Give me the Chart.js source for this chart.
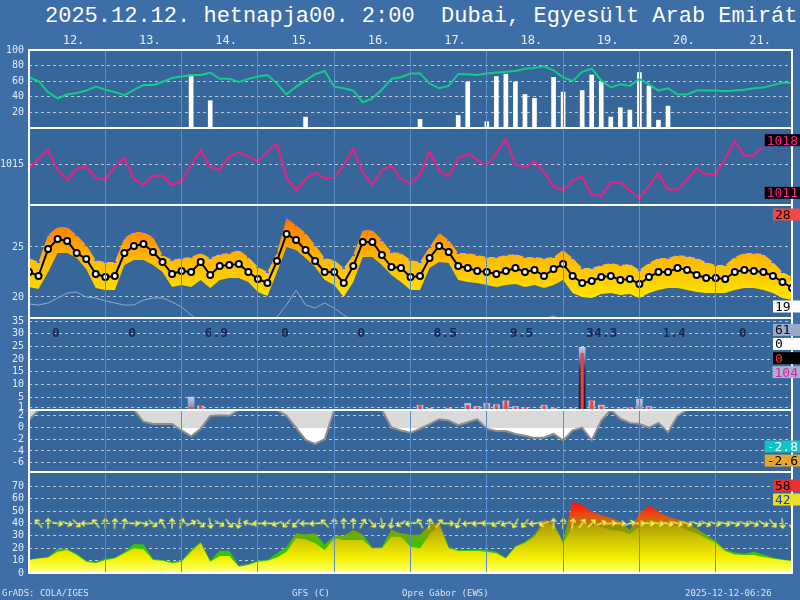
<!DOCTYPE html>
<html>
<head>
<meta charset="utf-8">
<script src="https://cdn.jsdelivr.net/npm/chart.js@4.4.1/dist/chart.umd.min.js"></script>
<style>
  html, body { margin: 0; padding: 0; }
  body { width: 800px; height: 600px; overflow: hidden; background: #3e6ea8; position: relative; }
  canvas { position: absolute; left: 0; }
  #title { position: absolute; left: 45px; top: 6px; font: 22px 'Liberation Mono', monospace; line-height: 22px; color: #fff; white-space: pre; }
  .foot { position: absolute; top: 589px; font: 9px 'DejaVu Sans Mono', monospace; line-height: 9px; color: #dde4ef; white-space: pre; }
</style>
</head>
<body>
<div id="title">2025.12.12. hetnapja00. 2:00  Dubai, Egyesült Arab Emirát</div>
<canvas id="c-hum"></canvas>
<canvas id="c-pres"></canvas>
<canvas id="c-temp"></canvas>
<canvas id="c-prec"></canvas>
<canvas id="c-snow"></canvas>
<canvas id="c-wind"></canvas>
<div class="foot" style="left:2px">GrADS: COLA/IGES</div>
<div class="foot" style="left:292px">GFS (C)</div>
<div class="foot" style="left:402px">Opre Gábor (EWS)</div>
<div class="foot" style="left:685px">2025-12-12-06:26</div>
<script>
const _ = null;

// 3-hourly steps, hours from start
const hours = Array.from({length: 81}, (_, i) => i * 3);
const dayLabels = ['12.', '13.', '14.', '15.', '16.', '17.', '18.', '19.', '20.', '21.'];
const dayPrecip = [0, 0, 6.9, 0, 0, 8.5, 9.5, 34.3, 1.4, 0];

// tick labels per panel
const humTicks  = [20, 40, 60, 80, 100];
const presTicks = [1015];
const tempTicks = [20, 25];
const precTicks = [1, 5, 10, 15, 20, 25, 30, 35];
const snowTicks = [-6, -4, -2, 0, 2];
const windTicks = [0, 10, 20, 30, 40, 50, 60, 70];

const humidity = [65,60,46,38,43,45,48,53,49,46, 42,49,55,55,59,64,66,68,68,71,
  63,63,59,63,66,68,57,43,53,61, 69,73,53,51,48,33,38,49,63,65,
  70,70,57,51,54,69,69,68,70,71, 72,73,76,77,79,74,65,60,72,76,
  61,52,56,54,63,56,48,51,43,43, 48,48,48,47,48,49,51,52,55,58,58];

const rainChance = [_,_,_,_,_,_,_,_,_,_, _,_,_,_,_,_,_,66,_,35,
  _,_,_,_,_,_,_,_,_,14, _,_,_,_,_,_,_,_,_,_,
  _,11,_,_,_,16,59,_,8,66, 69,59,43,38,_,65,46,_,48,68,
  60,14,26,23,71,54,10,28,_,_, _,_,_,_,_,_,_,_,_,_,_];

const pressure = [1014.5,1015.7,1016.8,1014.3,1013.1,1014.5,1014.7,1013.4,1013.1,1014.8,
  1015.8,1013.2,1012.5,1013.6,1013.6,1012.5,1012.9,1015.0,1016.8,1014.7,
  1014.3,1016.0,1016.5,1016.0,1015.4,1016.6,1017.5,1013.4,1011.8,1013.2,
  1014.0,1013.3,1013.4,1014.9,1017.0,1014.0,1012.5,1014.3,1014.8,1013.2,
  1012.6,1013.8,1016.6,1014.2,1013.5,1015.8,1016.3,1015.6,1014.9,1016.4,
  1018.1,1015.0,1014.6,1015.4,1014.1,1012.3,1011.8,1013.0,1013.5,1011.3,
  1011.1,1012.8,1012.8,1011.8,1010.8,1012.4,1013.9,1011.9,1011.9,1013.2,
  1014.5,1013.8,1013.8,1015.7,1017.9,1016.1,1016.1,1017.3,_,_,_];

const temp = [22.5,22.1,24.8,25.8,25.6,24.4,23.8,22.3,22.0,22.1,
  24.4,25.1,25.3,24.5,23.5,22.3,22.6,22.5,23.5,22.2,
  23.1,23.2,23.3,22.5,21.8,21.4,23.6,26.3,25.7,24.7,
  23.6,22.5,22.5,21.4,23.1,25.5,25.5,24.2,23.0,22.9,
  22.0,22.1,23.9,25.1,24.5,23.1,22.9,22.6,22.5,22.3,
  22.6,22.9,22.5,22.7,22.1,22.8,23.3,22.1,21.4,21.6,
  22.0,22.1,21.7,21.8,21.3,22.0,22.5,22.5,22.9,22.7,
  22.2,21.9,21.9,21.8,22.5,22.7,22.6,22.5,22.1,21.5,20.9];

const tempHi = [23.9,23.5,26.2,27.0,27.0,26.2,25.2,23.7,23.5,23.5,
  25.9,26.5,26.5,26.0,24.2,23.7,23.9,24.0,24.4,23.9,
  24.3,24.4,24.7,24.0,23.0,22.5,24.4,27.9,27.2,26.4,
  25.2,23.9,23.7,22.9,24.2,26.7,26.7,25.7,24.5,24.4,
  23.7,23.5,25.0,26.4,25.7,24.4,24.4,24.2,24.0,24.0,
  24.2,24.3,24.0,24.0,23.9,24.0,24.7,23.9,22.9,22.9,
  23.2,23.4,23.2,23.3,22.7,23.4,23.9,23.9,24.2,24.1,
  23.9,23.5,23.2,23.2,24.0,24.4,24.4,24.3,23.5,22.5,22.0];

const tempLo = [21.0,20.8,22.5,24.4,24.4,23.9,22.8,20.9,20.7,20.7,
  23.2,23.7,23.7,23.2,22.5,21.0,21.2,21.0,21.7,20.9,
  21.7,21.9,21.9,21.5,20.5,20.1,22.5,25.0,24.7,23.9,
  23.0,21.7,21.2,20.0,21.5,24.0,24.0,23.2,22.2,21.5,
  20.7,20.7,22.9,23.5,23.4,21.7,21.5,21.4,21.2,21.0,
  21.2,21.3,21.0,21.2,20.9,21.2,21.7,20.4,20.0,19.9,
  20.3,20.4,20.2,20.3,19.9,20.4,20.7,20.9,20.9,20.7,
  20.5,20.4,20.4,20.4,20.7,20.9,20.9,20.7,20.4,19.9,19.7];

const dewPoint = [19.3,19.2,19.4,19.9,20.4,20.5,20.0,19.9,19.6,19.4,
  19.2,19.2,19.7,19.9,19.9,19.5,19.0,18.2,17.5,17.2,
  17.4,18.0,17.5,17.2,17.0,17.3,18.0,19.2,20.7,19.2,
  18.9,19.4,18.9,18.2,17.6,17.3,17.2,17.0,17.2,17.3,
  17.1,17.0,17.2,17.3,17.4,17.2,17.1,17.0,17.0,17.2,
  17.4,17.5,17.6,17.7,17.8,18.1,17.6,17.3,17.0,17.0,
  17.1,17.2,17.0,17.0,16.9,17.0,17.2,17.3,17.3,17.2,
  17.0,17.0,16.9,16.9,17.0,17.1,17.1,17.0,16.9,16.8,16.7];

const precipTotal = [_,_,_,_,_,_,_,_,_,_, _,_,_,_,_,_,_,5.2,1.7,_,
  _,_,_,_,_,_,_,_,_,_, _,_,_,_,_,_,_,_,_,_,
  _,2.0,0.7,_,0.7,_,2.7,1.5,2.7,2.2, 3.7,1.5,0.9,_,2.0,0.7,_,0.6,24.8,3.7,
  2.0,_,0.6,1.0,4.4,1.5,_,_,_,_, _,_,_,_,_,_,_,_,_,_,_];

const precipConv = [_,_,_,_,_,_,_,_,_,_, _,_,_,_,_,_,_,1.1,1.7,_,
  _,_,_,_,_,_,_,_,_,_, _,_,_,_,_,_,_,_,_,_,
  _,2.0,0.5,_,0.6,_,2.0,1.1,2.4,2.0, 3.7,1.1,0.8,_,1.8,0.5,_,0.5,22.4,3.7,
  1.5,_,0.5,1.0,0.3,1.1,_,_,_,_, _,_,_,_,_,_,_,_,_,_,_];

const snowLevel = [1.3,3,3,3,3,3,3,3,3,3,
  3,3,1.0,0.6,0.6,0.6,-0.5,-1.5,-0.2,2.0,
  2.1,2.0,3,3,3,3,3,2.0,0,-2.1,
  -2.8,-2.0,3,3,3,3,3,3,0,-0.5,
  -0.9,-0.2,0.6,1.4,1.2,0.4,0.9,1.4,-0.2,-0.6,
  -0.6,-1.1,-1.4,-1.8,-1.7,-1.1,-2.2,-0.5,0,-2.2,
  1.2,3,1.5,0.8,0.6,0,0.8,-0.8,2.0,3,
  3,3,3,3,3,3,3,3,3,3,3];

const windSpeed = [10.5,11.8,12.6,17.2,18.5,14.5,9.1,7.8,10.5,11.8,
  15.9,19.9,19.1,10.5,9.9,7.8,9.1,17.2,24.5,9.1,
  13.7,13.7,5.1,6.4,9.1,9.9,12.6,17.2,28,27,
  24,18.5,28,26.6,26.6,26.6,19.9,19.9,29.3,29.3,
  21.2,19.9,31.2,38.7,19.9,17.7,17.7,17.7,17.2,15.9,
  11.8,21.2,24.2,29.3,40,38.7,24,38,40,38.7,
  37.4,34.7,34,31.2,38,42.7,41.4,40,38,34.7,
  32,28,24.5,17.7,15,14.5,14.5,13,11.8,10.5,9.6];

const windGust = [11,12,13,19.3,19.5,15.5,10,9,11.5,12.6,
  17,23.4,23,11.5,10.5,9,10,19,25,10,
  18,18,6,7.5,10,10.5,16,21,32,31,
  32,23,30,30,34.7,31,20.5,21,35,32,
  30.8,30.8,38.7,41,21.2,18.5,18.5,19,18.5,17.2,
  12.6,21.8,25.3,30.8,43.3,40,25.8,57.5,54.8,49.5,
  46.8,44.6,41.4,34.7,48,54.8,49.5,45.4,43.3,40.6,
  36,30.8,25.8,19,16.5,15.6,17.2,15,12.6,11,9.9];

// direction the wind comes from, degrees
const windDir = [_,140,180,280,290,315,90,140,180,185,
  190,275,285,310,150,180,200,245,315,350,
  300,320,10,110,90,90,70,45,40,90,
  85,135,180,180,180,210,320,350,10,60,
  80,150,190,220,270,20,80,80,90,60,
  70,30,40,80,70,180,185,190,215,225,
  250,265,270,250,270,275,280,280,285,290,
  290,295,285,285,290,290,295,300,320,355,360];

const PANEL_BG = '#37669b';
const TICK_COLOR = '#e6ecf5';
const GRID_COLOR = '#c2c6ce';
Chart.defaults.font.family = 'DejaVu Sans Mono';

function vGrad(chart, stops) {
  const {ctx, chartArea, scales} = chart;
  if (!chartArea) return stops[0][1];
  const y0 = scales.y.getPixelForValue(stops[0][0]);
  const y1 = scales.y.getPixelForValue(stops[stops.length - 1][0]);
  const g = ctx.createLinearGradient(0, y0, 0, y1);
  stops.forEach(([v, col]) => g.addColorStop((scales.y.getPixelForValue(v) - y0) / (y1 - y0), col));
  return g;
}

const panelPlugin = {
  id: 'panel',
  beforeDraw(chart) {
    const {ctx, chartArea: a} = chart;
    ctx.save();
    ctx.fillStyle = PANEL_BG;
    ctx.fillRect(a.left, a.top, a.width, a.height);
    ctx.restore();
  },
  afterDraw(chart, args, o) {
    const {ctx, chartArea: a, scales} = chart;
    ctx.save();
    ctx.strokeStyle = '#ffffff';
    ctx.lineWidth = 2;
    ctx.strokeRect(a.left, a.top, a.width, a.height);

    if (o.days) {
      ctx.font = '12px "DejaVu Sans Mono"';
      ctx.fillStyle = '#e8eef8';
      ctx.textAlign = 'center';
      ctx.textBaseline = 'middle';
      dayLabels.forEach((t, i) => ctx.fillText(t, scales.x.getPixelForValue(i * 24 + 14), a.top - 9));
    }
    if (o.totals) {
      ctx.font = 'bold 13px "DejaVu Sans Mono"';
      ctx.fillStyle = '#1a2850';
      ctx.textAlign = 'left';
      ctx.textBaseline = 'middle';
      dayPrecip.forEach((v, i) => ctx.fillText(String(v), scales.x.getPixelForValue(i * 24) + 23, scales.y.getPixelForValue(30)));
    }
    ctx.font = '13px "DejaVu Sans Mono"';
    ctx.textBaseline = 'middle';
    ctx.textAlign = 'left';
    (o.boxes || []).forEach(b => {
      const y = scales.y.getPixelForValue(b.at);
      const w = Math.max(27, ctx.measureText(b.text).width + 4);
      ctx.fillStyle = b.bg;
      ctx.fillRect(chart.width - w, y - 6, w, 12);
      ctx.fillStyle = b.fg;
      ctx.fillText(b.text, chart.width - w + 2, y + 1);
    });
    ctx.restore();
  }
};
Chart.register(panelPlugin);

function xScale() {
  return {
    type: 'linear', min: 0, max: 240, offset: false,
    ticks: { display: false },
    grid: { color: '#5b8ccb', lineWidth: 1, drawTicks: false, offset: false, z: 1 },
    border: { display: false },
    afterBuildTicks: s => { s.ticks = dayLabels.slice(1).map((t, i) => ({ value: (i + 1) * 24 })); }
  };
}

function yScale(min, max, ticks) {
  return {
    min, max,
    afterBuildTicks: s => { s.ticks = ticks.map(v => ({ value: v })); },
    afterFit: s => { s.width = 29; },
    ticks: { color: TICK_COLOR, font: { size: 10 }, padding: 5, autoSkip: false, callback: v => String(v) },
    grid: { color: GRID_COLOR, lineWidth: 1, drawTicks: false },
    border: { display: false, dash: [3, 3] }
  };
}

function makeChart(id, top, bottom, padTop, padBottom, datasets, y, panel) {
  const cv = document.getElementById(id);
  cv.width = 800;
  cv.height = bottom - top + padTop + padBottom;
  cv.style.top = (top - padTop) + 'px';
  return new Chart(cv, {
    type: 'line',
    data: { labels: hours, datasets },
    options: {
      responsive: false,
      animation: false,
      layout: { padding: { top: padTop, bottom: padBottom, left: 0, right: 8 } },
      elements: { line: { tension: 0 } },
      plugins: { legend: { display: false }, tooltip: { enabled: false }, panel },
      scales: { x: xScale(), y }
    }
  });
}

// humidity + precipitation chance
makeChart('c-hum', 50, 128, 22, 12, [
  { data: humidity, borderColor: '#14cc88', borderWidth: 2, pointRadius: 0, order: 0 },
  { type: 'bar', data: rainChance, backgroundColor: '#ffffff', barThickness: 4, order: 1 }
], yScale(0, 100, humTicks), { days: true });

// pressure
makeChart('c-pres', 128, 205, 12, 12, [
  { data: pressure, borderColor: '#ee1e82', borderWidth: 2, pointRadius: 0 }
], yScale(1010, 1019.5, presTicks), {
  boxes: [
    { text: '1018', at: 1018, bg: '#000000', fg: '#ff1c8c' },
    { text: '1011', at: 1011.5, bg: '#000000', fg: '#ff1c8c' }
  ]
});

// temperature
makeChart('c-temp', 205, 318, 12, 12, [
  { data: temp, borderColor: '#000000', borderWidth: 2, pointRadius: 3, pointBorderWidth: 2,
    pointBackgroundColor: '#ffffff', pointBorderColor: '#000000', order: 0 },
  { data: tempHi, showLine: false, pointStyle: 'triangle', pointRadius: 2.2, pointBorderWidth: 0,
    pointBackgroundColor: '#3a5cff', order: 1 },
  { data: dewPoint, borderColor: '#93aacb', borderWidth: 1, pointRadius: 0, order: 2 },
  { data: tempHi, borderColor: 'rgba(0,0,0,0)', borderWidth: 0, pointRadius: 0, fill: 4, order: 3,
    backgroundColor: c => vGrad(c.chart, [[28.5, '#ee6a00'], [26.5, '#ff8c00'], [25, '#ffa600'],
      [23.5, '#ffbe00'], [22, '#ffcc00'], [20.5, '#ffde00'], [19, '#fff000']]) },
  { data: tempLo, borderColor: 'rgba(0,0,0,0)', borderWidth: 0, pointRadius: 0, order: 4 }
], yScale(17.9, 29.2, tempTicks), {
  boxes: [
    { text: '28', at: 28.25, bg: '#f04848', fg: '#200000' },
    { text: '19', at: 19.05, bg: '#ffffff', fg: '#000000' }
  ]
});

// precipitation
makeChart('c-prec', 318, 410, 12, 12, [
  { type: 'bar', data: precipConv, backgroundColor: '#ff3a3a', grouped: false,
    categoryPercentage: 1, barPercentage: 0.32, order: 0 },
  { type: 'bar', data: precipTotal, grouped: false, categoryPercentage: 1, barPercentage: 0.7, order: 1,
    backgroundColor: c => {
      const chart = c.chart, v = c.raw;
      if (!chart.chartArea || v == null) return '#98a8c8';
      const top = chart.scales.y.getPixelForValue(v);
      const g = chart.ctx.createLinearGradient(0, top, 0, top + 40);
      g.addColorStop(0, '#c4cce6');
      g.addColorStop(0.25, '#8696bf');
      g.addColorStop(0.55, '#2a3a5c');
      g.addColorStop(1, '#16243c');
      return g;
    } }
], yScale(0, 36.2, precTicks), {
  totals: true,
  boxes: [
    { text: '61', at: 31.5, bg: '#9aaacb', fg: '#000000' },
    { text: '0', at: 26, bg: '#ffffff', fg: '#000000' },
    { text: '0', at: 20.4, bg: '#000000', fg: '#ff3030' },
    { text: '104', at: 14.9, bg: '#a4b2d0', fg: '#e0209c' }
  ]
});

// snow / freezing level
makeChart('c-snow', 410, 472, 12, 12, [
  { data: snowLevel, borderColor: '#8e8e8e', borderWidth: 2, pointRadius: 0, fill: 'end',
    backgroundColor: c => vGrad(c.chart, [[3, '#dadada'], [0, '#dadada'], [0, '#ffffff'], [-7.6, '#ffffff']]) }
], yScale(-7.6, 3, snowTicks), {
  boxes: [
    { text: '-2.8', at: -3.25, bg: '#14c4c4', fg: '#ffffff' },
    { text: '-2.6', at: -5.65, bg: '#e6a62c', fg: '#000000' }
  ]
});

// wind
const arrowImg = (() => {
  const c = document.createElement('canvas');
  c.width = 12; c.height = 12;
  const g = c.getContext('2d');
  g.strokeStyle = '#ffff48';
  g.lineWidth = 1.2;
  g.beginPath();
  g.moveTo(6, 11.5); g.lineTo(6, 1.5);
  g.moveTo(3.2, 4.5); g.lineTo(6, 1.5); g.lineTo(8.8, 4.5);
  g.stroke();
  return c;
})();

makeChart('c-wind', 472, 573, 12, 12, [
  { data: windDir.map(d => d == null ? null : 40), showLine: false, pointStyle: arrowImg, pointRadius: 6,
    rotation: c => (windDir[c.dataIndex] || 0) + 180, order: 0 },
  { data: windSpeed, borderColor: 'rgba(0,0,0,0)', borderWidth: 0, pointRadius: 0, fill: 'origin', order: 1,
    backgroundColor: c => vGrad(c.chart, [[0, '#ffffb0'], [4, '#ffff50'], [12, '#f4f000'], [22, '#dcd400'],
      [32, '#c0b400'], [42, '#a89000']]) },
  { data: windGust, borderColor: 'rgba(0,0,0,0)', borderWidth: 0, pointRadius: 0, fill: 'origin', order: 2,
    backgroundColor: c => vGrad(c.chart, [[0, '#28c800'], [22, '#38c400'], [30, '#6aae00'], [36, '#8e9600'],
      [41, '#c07010'], [47, '#e84a10'], [53, '#ff2010'], [60, '#ff0000']]) }
], yScale(0, 81.5, windTicks), {
  boxes: [
    { text: '58', at: 70.6, bg: '#f03030', fg: '#000000' },
    { text: '42', at: 59.3, bg: '#e8e020', fg: '#1838e0' }
  ]
});
</script>
</body>
</html>
